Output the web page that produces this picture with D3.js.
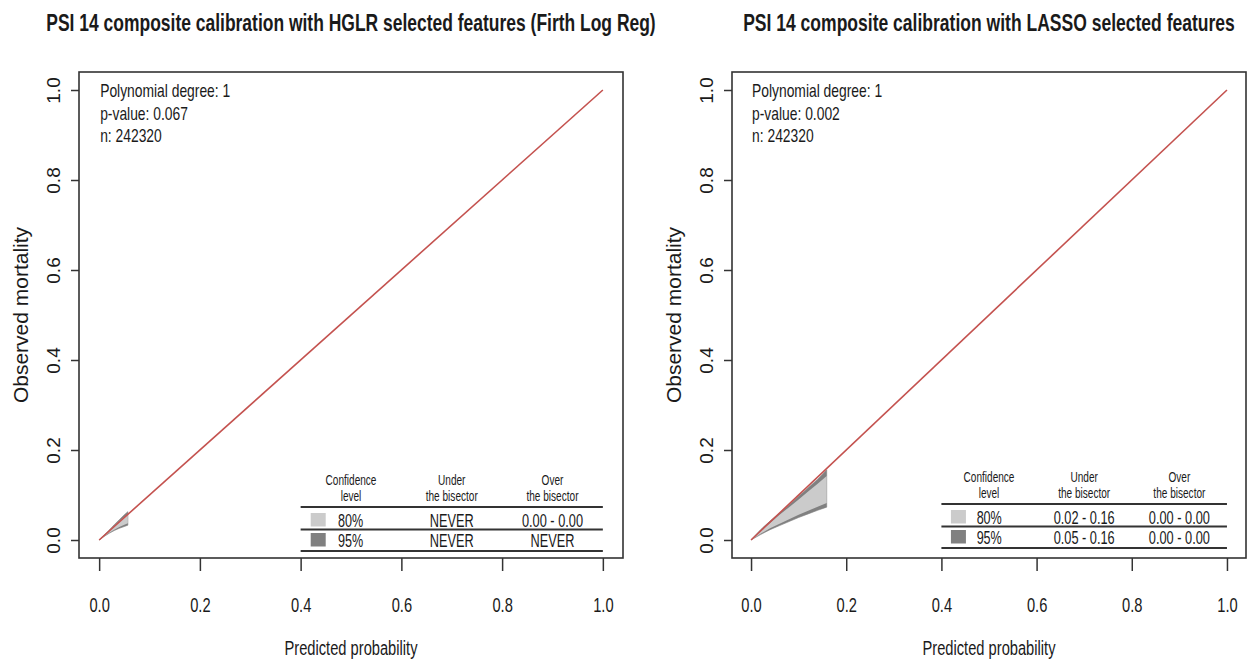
<!DOCTYPE html>
<html><head><meta charset="utf-8">
<script src="https://cdn.jsdelivr.net/npm/d3@7"></script>
<style>
body{margin:0;background:#fff}
text{font-family:"Liberation Sans",Arial,Helvetica,sans-serif;fill:#1a1a1a}
</style>
</head><body>
<svg id="chart" width="1249" height="661"></svg>
<script>
// ---------------- data ----------------
const panelTitles = ["PSI 14 composite calibration with HGLR selected features (Firth Log Reg)",
                     "PSI 14 composite calibration with LASSO selected features"];
const polyDegree = [1, 1];
const pValues = ["0.067", "0.002"];
const nValues = ["242320", "242320"];
const axisTicks = [0, 0.2, 0.4, 0.6, 0.8, 1.0];
const xLabel = "Predicted probability";
const yLabel = "Observed mortality";
const bisector = [0, 1];

// calibration belt, HGLR panel
const hglrX      = [0.000, 0.010, 0.020, 0.030, 0.040, 0.050, 0.057];
const hglrHi95   = [0.000, 0.011, 0.022, 0.034, 0.045, 0.056, 0.063];
const hglrHi80   = [0.000, 0.0105,0.021, 0.031, 0.042, 0.051, 0.058];
const hglrLo80   = [0.000, 0.0085,0.016, 0.023, 0.029, 0.034, 0.037];
const hglrLo95   = [0.000, 0.008, 0.015, 0.021, 0.026, 0.030, 0.033];

// calibration belt, LASSO panel
const lassoX     = [0.000, 0.020, 0.040, 0.060, 0.080, 0.100, 0.120, 0.140, 0.159];
const lassoHi95  = [0.000, 0.023, 0.042, 0.060, 0.078, 0.097, 0.116, 0.135, 0.156];
const lassoHi80  = [0.000, 0.020, 0.038, 0.056, 0.073, 0.090, 0.108, 0.125, 0.142];
const lassoLo80  = [0.000, 0.014, 0.026, 0.036, 0.046, 0.056, 0.065, 0.074, 0.082];
const lassoLo95  = [0.000, 0.012, 0.023, 0.032, 0.041, 0.050, 0.058, 0.066, 0.073];

// legend table
const confLevels = ["80%", "95%"];
const hglrUnder  = ["NEVER", "NEVER"];
const hglrOver   = ["0.00 - 0.00", "NEVER"];
const lassoUnder = ["0.02 - 0.16", "0.05 - 0.16"];
const lassoOver  = ["0.00 - 0.00", "0.00 - 0.00"];
const legendHeaders = [["Confidence","level"],["Under","the bisector"],["Over","the bisector"]];

// ---------------- drawing ----------------
const svg = d3.select("#chart");
const C80 = "#cbcbcb", C95 = "#808080", RED = "#c4524f", INK = "#333";

// horizontally condense a text via a transform (keeps its anchor point)
function squeeze(sel, k, targetW){
  sel.each(function(){
    const t = d3.select(this);
    const w = this.getComputedTextLength();
    const kk = targetW ? targetW / w : k;
    const x0 = +t.attr("x") || 0, y0 = +t.attr("y") || 0;
    t.attr("x", 0).attr("y", 0).attr("transform", `translate(${x0},${y0}) scale(${kk},1)`);
  });
}

const panels = [
  {title: panelTitles[0], titleW: 610, left: 79, right: 623, legendTop: 507,
   deg: polyDegree[0], p: pValues[0], n: nValues[0],
   bx: hglrX, hi95: hglrHi95, hi80: hglrHi80, lo80: hglrLo80, lo95: hglrLo95,
   under: hglrUnder, over: hglrOver},
  {title: panelTitles[1], titleW: 492, left: 732, right: 1246, legendTop: 504,
   deg: polyDegree[1], p: pValues[1], n: nValues[1],
   bx: lassoX, hi95: lassoHi95, hi80: lassoHi80, lo80: lassoLo80, lo95: lassoLo95,
   under: lassoUnder, over: lassoOver}
];

panels.forEach(P => {
  const top = 72, bottom = 558;
  const x = d3.scaleLinear().domain([-0.04, 1.04]).range([P.left, P.right]);
  const y = d3.scaleLinear().domain([-0.04, 1.04]).range([bottom, top]);
  const g = svg.append("g");

  // title
  g.append("text").attr("x", (P.left+P.right)/2).attr("y", 31)
    .attr("text-anchor","middle").style("font-size","23px").style("font-weight","bold")
    .text(P.title).call(squeeze, 1, P.titleW);

  // belts
  const pts = P.bx.map((v,i)=>({x:v, hi95:P.hi95[i], hi80:P.hi80[i], lo80:P.lo80[i], lo95:P.lo95[i]}));
  g.append("path").datum(pts)
    .attr("d", d3.area().x(d=>x(d.x)).y0(d=>y(d.lo95)).y1(d=>y(d.hi95)))
    .attr("fill", C95).attr("stroke", C95).attr("stroke-width", 0.6);
  g.append("path").datum(pts)
    .attr("d", d3.area().x(d=>x(d.x)).y0(d=>y(d.lo80)).y1(d=>y(d.hi80)))
    .attr("fill", C80);

  // bisector
  g.append("path").datum(bisector)
    .attr("d", d3.line().x(d=>x(d)).y(d=>y(d)))
    .attr("stroke", RED).attr("stroke-width", 1.6).attr("fill","none");

  // box
  g.append("rect").attr("x", P.left).attr("y", top)
    .attr("width", P.right-P.left).attr("height", bottom-top)
    .attr("fill","none").attr("stroke", INK).attr("stroke-width", 1.6);

  // x axis
  const xa = g.append("g").attr("transform", `translate(0,${bottom})`)
    .call(d3.axisBottom(x).tickValues(axisTicks).tickSize(13).tickSizeOuter(0).tickFormat(d3.format(".1f")));
  xa.select(".domain").remove();
  xa.selectAll(".tick line").attr("stroke", INK).attr("stroke-width", 1.5);
  xa.selectAll(".tick text").attr("y", 54).attr("dy", null)
    .attr("fill","#1a1a1a").style("font-size","21px").style("font-family",'"Liberation Sans",Arial,sans-serif')
    .call(squeeze, 0.7);

  // y axis
  const ya = g.append("g").attr("transform", `translate(${P.left},0)`)
    .call(d3.axisLeft(y).tickValues(axisTicks).tickSize(8).tickSizeOuter(0).tickFormat(d3.format(".1f")));
  ya.select(".domain").remove();
  ya.selectAll(".tick line").attr("stroke", INK).attr("stroke-width", 1.5);
  ya.selectAll(".tick text").attr("x", null).attr("dy", null)
    .attr("text-anchor","middle").attr("transform","translate(-19,0) rotate(-90)")
    .attr("fill","#1a1a1a").style("font-size","19px").style("font-family",'"Liberation Sans",Arial,sans-serif');

  // axis titles
  g.append("text").attr("x", (P.left+P.right)/2).attr("y", 655)
    .attr("text-anchor","middle").style("font-size","21px").text(xLabel).call(squeeze, 1, 133);
  g.append("text").attr("transform", `translate(${P.left-51},${y(0.5)}) rotate(-90)`)
    .attr("text-anchor","middle").style("font-size","21px").text(yLabel);

  // annotation
  const ann = [`Polynomial degree: ${P.deg}`, `p-value: ${P.p}`, `n: ${P.n}`];
  g.selectAll(".ann").data(ann).join("text").attr("class","ann")
    .attr("x", x(0)+1).attr("y", (d,i)=>97 + i*22.5)
    .style("font-size","18px").text(d=>d).call(squeeze, 0.77);

  // legend table
  const L1 = P.legendTop;
  const colX = [x(0.5), x(0.7), x(0.9)];
  legendHeaders.forEach((h,ci)=>{
    h.forEach((t,li)=>{
      g.append("text").attr("x", colX[ci]).attr("y", L1-22+li*16)
        .attr("text-anchor","middle").style("font-size","14px").text(t).call(squeeze, 0.72);
    });
  });
  [0, 22.5, 44].forEach(dy=>{
    g.append("line").attr("x1", x(0.4)).attr("x2", x(1.0)).attr("y1", L1+dy).attr("y2", L1+dy)
      .attr("stroke", INK).attr("stroke-width", 2);
  });
  const sqColors = [C80, C95];
  confLevels.forEach((lv,ri)=>{
    const base = L1 + 20 + ri*20;
    g.append("rect").attr("x", x(0.42)).attr("y", base-14).attr("width", 15).attr("height", 13.5)
      .attr("fill", sqColors[ri]);
    g.append("text").attr("x", x(0.474)).attr("y", base).style("font-size","18px").text(lv).call(squeeze, 0.7);
    g.append("text").attr("x", colX[1]).attr("y", base).attr("text-anchor","middle")
      .style("font-size","18px").text(P.under[ri]).call(squeeze, 0.71);
    g.append("text").attr("x", colX[2]).attr("y", base).attr("text-anchor","middle")
      .style("font-size","18px").text(P.over[ri]).call(squeeze, 0.71);
  });
});
</script>
</body></html>
